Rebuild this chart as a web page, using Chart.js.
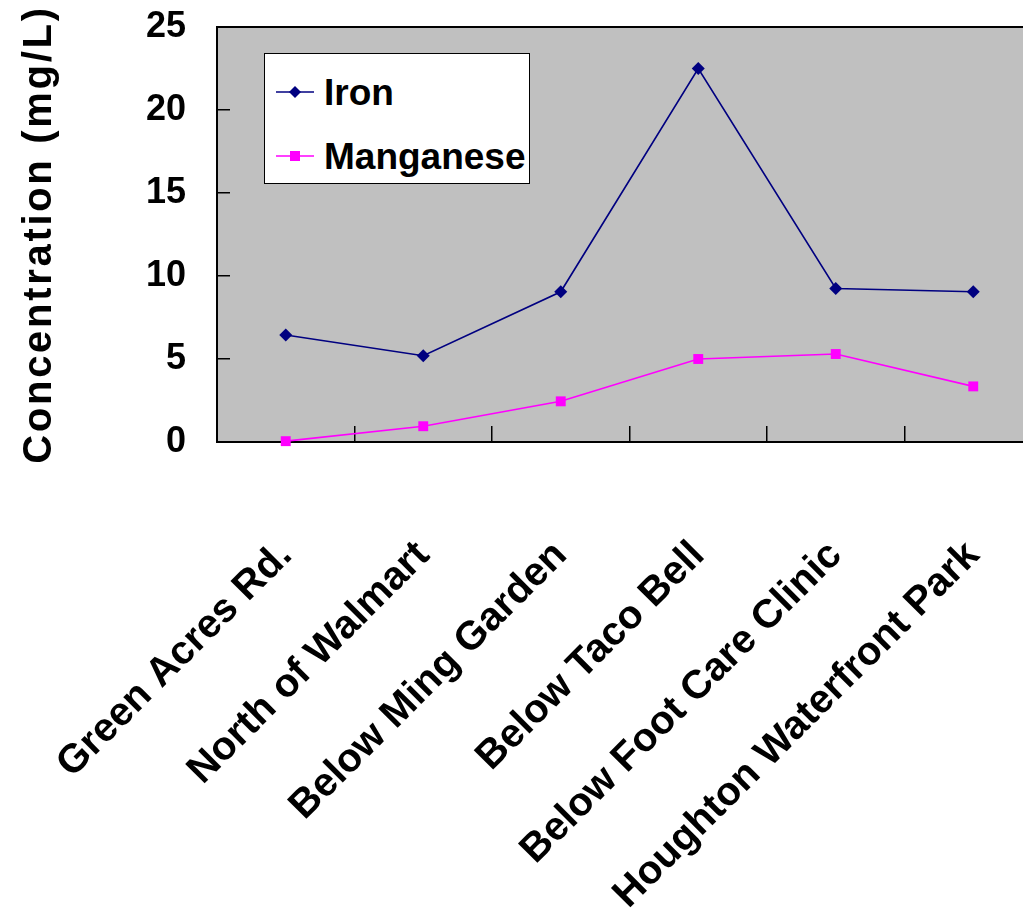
<!DOCTYPE html>
<html>
<head>
<meta charset="utf-8">
<script src="https://cdn.jsdelivr.net/npm/chart.js@4/dist/chart.umd.min.js"></script>
<style>
  html, body { margin: 0; padding: 0; background: #ffffff; overflow: hidden; }
  #wrap { position: relative; width: 1023px; height: 924px; overflow: hidden; }
  #holder { position: absolute; left: 0; top: 0; width: 1060px; height: 924px; }
  #legend {
    position: absolute; left: 264px; top: 53px; width: 266px; height: 131px;
    box-sizing: border-box; background: #ffffff; border: 1.5px solid #000000;
  }
  .row { position: absolute; left: 10px; height: 50px; display: flex; align-items: center; }
  .row svg { width: 40px; height: 16px; margin-right: 9px; flex: none; }
  .row span { font-weight: bold; color: #000; white-space: nowrap; line-height: 1; }
</style>
</head>
<body>
<div id="wrap">
  <div id="holder"><canvas id="c" width="1060" height="924"></canvas></div>
  <div id="legend"></div>
</div>
<script>
// ---- data ----
const categories = ["Green Acres Rd.", "North of Walmart", "Below Ming Garden", "Below Taco Bell", "Below Foot Care Clinic", "Houghton Waterfront Park"];
const ironValues = [6.45, 5.2, 9.05, 22.5, 9.25, 9.05];
const manganeseValues = [0.05, 0.95, 2.45, 5.0, 5.3, 3.35];
const seriesNames = ["Iron", "Manganese"];
const yTicks = [0, 5, 10, 15, 20, 25];
const yTitle = "Concentration (mg/L)";

// ---- font choice ----
function hasFont(name) {
  const ctx = document.createElement('canvas').getContext('2d');
  ctx.font = 'bold 40px monospace';
  const a = ctx.measureText('Manganese WWW iii').width;
  ctx.font = 'bold 40px "' + name + '", monospace';
  const b = ctx.measureText('Manganese WWW iii').width;
  return Math.abs(a - b) > 0.5;
}
const narrow = hasFont('Liberation Sans Narrow');
const FAMILY = narrow ? '"Liberation Sans Narrow", "Liberation Sans", Arial, sans-serif' : '"Liberation Sans", Arial, sans-serif';
const S = narrow ? { x: 47, y: 42, legend: 44, title: 46, ls: 2 } : { x: 40, y: 36, legend: 37, title: 40, ls: 2.7 };

// ---- legend (HTML) ----
const legend = document.getElementById('legend');
const iconSvgs = [
  '<svg viewBox="0 0 40 16"><line x1="1" y1="8" x2="39" y2="8" stroke="#000080" stroke-width="1.6"/><polygon points="20,2 26,8 20,14 14,8" fill="#000080"/></svg>',
  '<svg viewBox="0 0 40 16"><line x1="1" y1="8" x2="39" y2="8" stroke="#FF00FF" stroke-width="1.6"/><rect x="15" y="3" width="10" height="10" fill="#FF00FF"/></svg>'
];
const rowTops = [13, 77];
seriesNames.forEach((n, i) => {
  const r = document.createElement('div');
  r.className = 'row';
  r.style.top = rowTops[i] + 'px';
  r.innerHTML = iconSvgs[i] + '<span style="font-family:' + FAMILY.replace(/"/g, "'") + ';font-size:' + S.legend + 'px">' + n + '</span>';
  legend.appendChild(r);
});

// ---- custom y scale with letter-spaced title ----
class SpacedLinear extends Chart.LinearScale {
  drawTitle() {
    const ctx = this.ctx;
    const prev = ctx.letterSpacing;
    ctx.letterSpacing = S.ls + 'px';
    super.drawTitle();
    ctx.letterSpacing = prev || '0px';
  }
}
SpacedLinear.id = 'spacedLinear';
SpacedLinear.defaults = Chart.LinearScale.defaults;
Chart.register(SpacedLinear);

const plotFrame = {
  id: 'plotFrame',
  beforeDraw(chart) {
    const { ctx, chartArea: a } = chart;
    ctx.save();
    ctx.fillStyle = '#C0C0C0';
    ctx.fillRect(a.left, a.top, a.right - a.left, a.bottom - a.top);
    ctx.restore();
  },
  beforeDatasetsDraw(chart) {
    const { ctx, chartArea: a } = chart;
    ctx.save();
    ctx.strokeStyle = '#000000';
    ctx.lineWidth = 2;
    ctx.strokeRect(a.left, a.top, a.right - a.left, a.bottom - a.top);
    ctx.restore();
  }
};

new Chart(document.getElementById('c'), {
  type: 'line',
  data: {
    labels: categories,
    datasets: [
      {
        label: seriesNames[0], data: ironValues,
        borderColor: '#000080', backgroundColor: '#000080', borderWidth: 1.6,
        pointStyle: 'rectRot', pointRadius: 6.5, pointBorderWidth: 0,
        tension: 0, clip: false
      },
      {
        label: seriesNames[1], data: manganeseValues,
        borderColor: '#FF00FF', backgroundColor: '#FF00FF', borderWidth: 1.6,
        pointStyle: 'rect', pointRadius: 7, pointBorderWidth: 0,
        tension: 0, clip: false
      }
    ]
  },
  options: {
    responsive: false,
    animation: false,
    devicePixelRatio: 1,
    layout: { padding: { top: 27, right: 18, left: 0, bottom: 0 } },
    plugins: { legend: { display: false }, tooltip: { enabled: false } },
    scales: {
      x: {
        type: 'category',
        offset: true,
        grid: { offset: true, drawOnChartArea: false, drawTicks: true, tickLength: -16, color: '#000000', lineWidth: 1.5 },
        border: { display: true, color: '#000000', width: 2 },
        ticks: {
          autoSkip: false, minRotation: 45, maxRotation: 45, padding: 106,
          color: '#000000', font: { family: FAMILY, size: S.x, weight: 'bold' }
        },
        afterFit(s) { s.height = 482; s.paddingLeft = 0; s.paddingRight = 0; s.paddingTop = 0; s.paddingBottom = 0; }
      },
      y: {
        type: 'spacedLinear',
        min: 0, max: 25,
        afterBuildTicks(s) { s.ticks = yTicks.map(v => ({ value: v })); },
        grid: { drawOnChartArea: false, drawTicks: true, tickLength: -13, color: '#000000', lineWidth: 1.5 },
        border: { display: true, color: '#000000', width: 2 },
        ticks: {
          padding: 44, color: '#000000',
          font: { family: FAMILY, size: S.y, weight: 'bold' }
        },
        title: {
          display: true, text: yTitle, color: '#000000',
          padding: { top: 16, bottom: 0 },
          font: { family: FAMILY, size: S.title, weight: 'bold' }
        },
        afterFit(s) { s.width = 217; s.paddingTop = 0; s.paddingBottom = 0; s.paddingLeft = 0; s.paddingRight = 0; }
      }
    }
  },
  plugins: [plotFrame]
});
</script>
</body>
</html>
